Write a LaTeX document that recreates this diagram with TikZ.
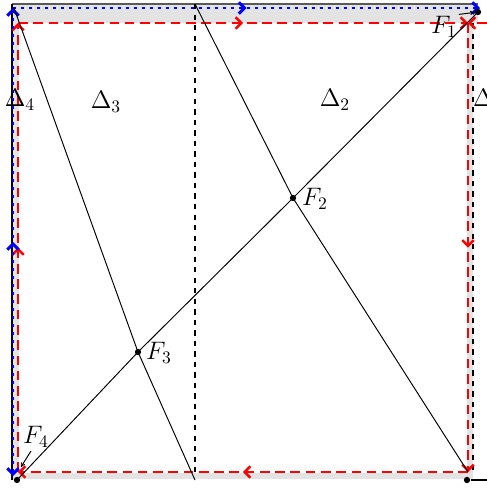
\documentclass[tikz,border=0pt]{standalone}
\usetikzlibrary{arrows.meta,decorations.markings}
\begin{document}
\begin{tikzpicture}[x=0.57pt,y=-0.57pt,
  every node/.style={font=\fontsize{14}{16}\selectfont},
  band/.style={fill=black!11,draw=none},
  thinline/.style={black,line width=0.55pt},
  redpath/.style={red,line width=1.4pt,dash pattern=on 5.5pt off 3.2pt},
  bluepath/.style={blue,line width=1.7pt,dash pattern=on 1.7pt off 2.9pt},
  redtip/.style={-{Straight Barb[length=3.2pt,width=6.5pt]}},
  midarrow/.style={postaction={decorate},decoration={markings,
     mark=at position 0.5 with {\arrow{Straight Barb[length=3.2pt,width=6.5pt]}}}},
  dot/.style={circle,fill=black,inner sep=0pt,minimum size=3.6pt},
  lbl/.style={inner sep=1pt}
]
\useasboundingbox (0,0) rectangle (487,492);
\clip (0,0) rectangle (487,492);

% grey bands
\fill[band] (12,4) rectangle (478,23);
\fill[band] (12,4) rectangle (19,480);
\fill[band] (467,23) rectangle (473,478);
\fill[band] (12,473) rectangle (473,479);

% corner coordinates
\coordinate (TL) at (14,8);
\coordinate (TM) at (195,4);
\coordinate (BM) at (195,480);
\coordinate (BLc) at (17,480);
\coordinate (BRc) at (467,480);
\coordinate (BRe) at (491,480);
\coordinate (TRc) at (478,12);

% outer frame
\coordinate (oTL) at (12,4);
\coordinate (oTR) at (478,4);
\coordinate (oBL) at (12,480);
\draw[black!65,line width=0.9pt] (oTL) -- (oTR);
\draw[thinline,line width=0.7pt] (oTL) -- (oBL);
\coordinate (dR1) at (473,23);
\coordinate (dR2) at (473,472);
\draw[thinline,dashed,line width=0.6pt] (dR1) -- (dR2);
\coordinate (dM2) at (195,472);
\draw[thinline,dashed,line width=0.6pt] (TM) -- (dM2);

% red dashed loop
\coordinate (rTL) at (18,23);
\coordinate (rTR) at (468,23);
\coordinate (rBR) at (468,472);
\coordinate (rBL) at (18,472);
\draw[redpath,midarrow,redtip] (rTL) -- (rTR);
\draw[redpath,midarrow,redtip] (rTR) -- (rBR);
\draw[redpath,midarrow,redtip] (rBR) -- (rBL);
\draw[redpath,midarrow,redtip] (rBL) -- (rTL);
\coordinate (rX) at (487,23);
\draw[redpath,redtip] (rX) -- (rTR);

% blue dotted path
\coordinate (bBL) at (13,476);
\coordinate (bTL) at (13,8);
\coordinate (bTR) at (480,8);
\draw[bluepath,midarrow,{Straight Barb[length=3.2pt,width=6.5pt]}-{Straight Barb[length=3.2pt,width=6.5pt]}] (bBL) -- (bTL);
\draw[bluepath,midarrow,redtip] (bTL) -- (bTR);

% points
\node[dot] (F2) at (293,198) {};
\node[dot] (F3) at (138,352) {};
\node[dot] (P4) at (BLc) {};
\node[dot] (PBR) at (BRc) {};
\node[dot] (P1) at (TRc) {};
\node[dot] (PE) at (BRe) {};

% black lines
\draw[thinline] (TL) -- (F3.center) -- (BM);
\draw[thinline] (TM) -- (F2.center) -- (rBR);
\draw[thinline] (P4.center) -- (F3.center) -- (F2.center) -- (P1.center);
\draw[thinline,line width=0.7pt] (PBR) -- (PE);

% labels
\node[lbl] (lF2) at (315,199) {$F_2$};
\node[lbl] (lF3) at (159,353) {$F_3$};
\node[lbl] (lF1) at (444,27) {$F_1$};
\node[lbl] (lF4) at (36,437) {$F_4$};
\coordinate (a4s) at (31,451);
\coordinate (a4e) at (21,467);
\draw[thinline,-{To[length=2.5pt,width=2.5pt]}] (lF1.north east) -- (P1);
\draw[thinline,-{To[length=2.5pt,width=2.5pt]}] (a4s) -- (a4e);

\node[lbl] (D4) at (20,100) {$\Delta_4$};
\node[lbl] (D3) at (106,102) {$\Delta_3$};
\node[lbl] (D2) at (335,100) {$\Delta_2$};
\node[lbl,anchor=west] (D1) at (471,100) {$\Delta_1$};
\end{tikzpicture}
\end{document}
